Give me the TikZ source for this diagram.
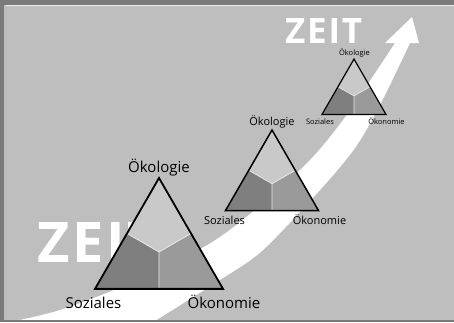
\documentclass[tikz,border=0pt]{standalone}
\usepackage{fontspec}
\setmainfont{Open Sans}
\newfontfamily\zeitfont[LetterSpace=5]{Open Sans}
\definecolor{bggray}{HTML}{BEBEBE}
\definecolor{framegray}{HTML}{7A7A7A}
\definecolor{toplight}{HTML}{C9C9C9}
\definecolor{darkpart}{HTML}{7F7F7F}
\definecolor{midpart}{HTML}{9A9A9A}
\definecolor{divider}{HTML}{E8E8E8}
\newcommand\dreieck[5]{%
  \begin{scope}[shift={(#1,#2)}, scale=#3]
    \fill[toplight] (0,0) -- (0.25,0.433) -- (0,0.5774) -- (-0.25,0.433) -- cycle;
    \fill[darkpart] (-0.25,0.433) -- (0,0.5774) -- (0,0.866) -- (-0.5,0.866) -- cycle;
    \fill[midpart] (0.25,0.433) -- (0,0.5774) -- (0,0.866) -- (0.5,0.866) -- cycle;
    \draw[divider, line width=#5] (-0.25,0.433) -- (0,0.5774) -- (0.25,0.433) (0,0.5774) -- (0,0.866);
    \draw[black, line width=#4, line join=miter] (0,0) -- (0.5,0.866) -- (-0.5,0.866) -- cycle;
  \end{scope}}
\tikzset{
  lab/.style={anchor=base, inner sep=0pt, text=black},
  zeit/.style={anchor=base west, inner sep=0pt, text depth=0pt, text=white, font=\zeitfont\bfseries}
}
\begin{document}
\begin{tikzpicture}[x=1pt,y=-1pt]
\useasboundingbox (0,0) rectangle (454,322);
\fill[framegray] (0,0) rectangle (454,322);
\fill[bggray] (3.5,4.5) rectangle (454,319.5);
\fill[white!70!bggray] (6,4.5) rectangle (454,5.5);
\begin{scope}
  \clip (3.5,5.5) rectangle (454,319.5);
  \fill[white] plot[smooth] coordinates {(0,324) (60,310) (140,279) (220,237) (300,170) (343,120) (395,43)}
    -- (385,43) -- (412,17) -- (419,43) -- (410,43)
    -- plot[smooth] coordinates {(410,43) (380,105) (355,148) (320,190) (263,250) (220,280) (150,324)}
    -- cycle;
\end{scope}
\node[zeit, font=\zeitfont\bfseries\fontsize{35}{40}\selectfont] (zeitoben) at (285,43) {ZEIT};
\node[zeit, font=\zeitfont\bfseries\fontsize{56}{60}\selectfont] (zeitunten) at (37,262) {ZEIT};
\dreieck{159}{178}{128}{1.8pt}{0.9pt}
\dreieck{272}{130}{93}{1.5pt}{0.8pt}
\dreieck{354}{59}{64}{1.2pt}{0.7pt}
\node[lab, font=\fontsize{15}{18}\selectfont] (oek1) at (159,172) {Ökologie};
\node[lab, font=\fontsize{15}{18}\selectfont] (soz1) at (93.5,308) {Soziales};
\node[lab, font=\fontsize{15}{18}\selectfont] (oko1) at (224,308) {Ökonomie};
\node[lab, font=\fontsize{11}{13}\selectfont] (oek2) at (272,125) {Ökologie};
\node[lab, font=\fontsize{11}{13}\selectfont] (soz2) at (224.5,224) {Soziales};
\node[lab, font=\fontsize{11}{13}\selectfont] (oko2) at (319.5,224) {Ökonomie};
\node[lab, font=\fontsize{7.5}{9}\selectfont] (oek3) at (354.5,55) {Ökologie};
\node[lab, font=\fontsize{7.5}{9}\selectfont] (soz3) at (320,124) {Soziales};
\node[lab, font=\fontsize{7.5}{9}\selectfont] (oko3) at (386.5,124) {Ökonomie};
\end{tikzpicture}
\end{document}
